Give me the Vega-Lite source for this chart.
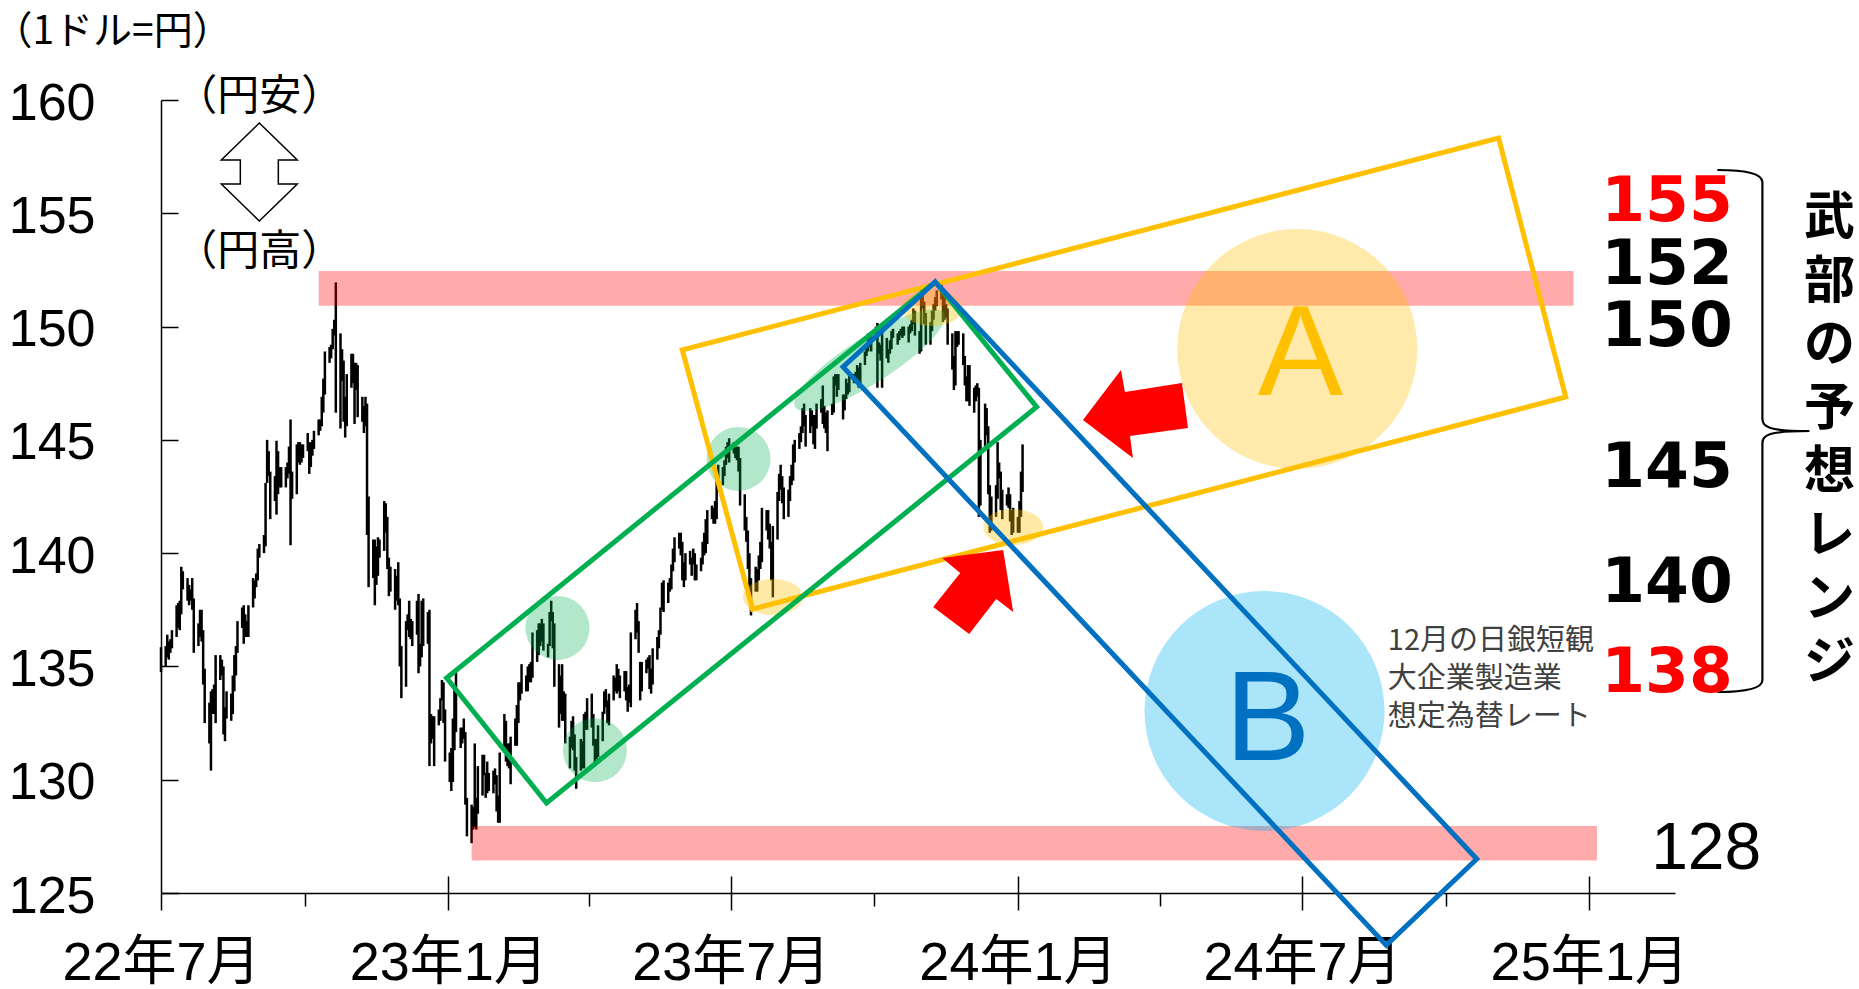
{
"$schema":"https://vega.github.io/schema/vega-lite/v6.json",
"width":1514,"height":793,
"autosize":{"type":"none"},
"padding":{"left":161,"top":100,"right":184,"bottom":96},
"background":"#ffffff",
"config":{"view":{"stroke":null}},
"resolve":{"axis":{"x":"independent","y":"independent"},"scale":{"color":"independent","shape":"independent"}},
"datasets":{
"price":[
{"d":"2022-07-01","lo":134.75,"hi":135.85},{"d":"2022-07-04","lo":135.0,"hi":135.9},{"d":"2022-07-05","lo":135.4,"hi":136.4},{"d":"2022-07-06","lo":135.3,"hi":136.1},{"d":"2022-07-07","lo":135.6,"hi":136.2},{"d":"2022-07-08","lo":135.8,"hi":136.6},{"d":"2022-07-11","lo":136.3,"hi":137.7},{"d":"2022-07-12","lo":136.7,"hi":137.8},{"d":"2022-07-13","lo":136.6,"hi":137.9},{"d":"2022-07-14","lo":137.3,"hi":139.4},{"d":"2022-07-15","lo":138.4,"hi":139.2},{"d":"2022-07-18","lo":137.9,"hi":138.9},{"d":"2022-07-19","lo":137.7,"hi":138.6},{"d":"2022-07-20","lo":137.9,"hi":138.4},{"d":"2022-07-21","lo":137.5,"hi":138.9},{"d":"2022-07-22","lo":135.6,"hi":138.0},{"d":"2022-07-25","lo":135.9,"hi":136.9},{"d":"2022-07-26","lo":136.3,"hi":137.5},{"d":"2022-07-27","lo":136.1,"hi":137.5},{"d":"2022-07-28","lo":134.2,"hi":136.6},{"d":"2022-07-29","lo":132.5,"hi":134.9},
{"d":"2022-08-01","lo":131.6,"hi":133.4},{"d":"2022-08-02","lo":130.4,"hi":133.9},{"d":"2022-08-03","lo":132.9,"hi":134.0},{"d":"2022-08-04","lo":132.9,"hi":134.2},{"d":"2022-08-05","lo":132.5,"hi":135.5},{"d":"2022-08-08","lo":134.4,"hi":135.5},{"d":"2022-08-09","lo":134.6,"hi":135.3},{"d":"2022-08-10","lo":132.0,"hi":135.0},{"d":"2022-08-11","lo":131.7,"hi":133.2},{"d":"2022-08-12","lo":132.7,"hi":133.9},{"d":"2022-08-15","lo":132.6,"hi":133.8},{"d":"2022-08-16","lo":132.9,"hi":134.6},{"d":"2022-08-17","lo":133.9,"hi":135.5},{"d":"2022-08-18","lo":134.6,"hi":135.9},{"d":"2022-08-19","lo":135.6,"hi":137.0},{"d":"2022-08-22","lo":136.7,"hi":137.6},{"d":"2022-08-23","lo":136.0,"hi":137.7},{"d":"2022-08-24","lo":136.3,"hi":137.3},{"d":"2022-08-25","lo":136.3,"hi":137.0},{"d":"2022-08-26","lo":136.3,"hi":137.7},{"d":"2022-08-29","lo":137.6,"hi":138.9},{"d":"2022-08-30","lo":138.0,"hi":138.8},{"d":"2022-08-31","lo":138.5,"hi":139.1},
{"d":"2022-09-01","lo":138.8,"hi":140.2},{"d":"2022-09-02","lo":139.8,"hi":140.4},{"d":"2022-09-05","lo":140.0,"hi":140.8},{"d":"2022-09-06","lo":140.3,"hi":143.1},{"d":"2022-09-07","lo":143.1,"hi":145.0},{"d":"2022-09-08","lo":143.4,"hi":144.5},{"d":"2022-09-09","lo":141.5,"hi":143.6},{"d":"2022-09-12","lo":142.3,"hi":143.4},{"d":"2022-09-13","lo":141.7,"hi":144.96},{"d":"2022-09-14","lo":142.6,"hi":144.5},{"d":"2022-09-15","lo":142.9,"hi":143.8},{"d":"2022-09-16","lo":142.9,"hi":143.8},{"d":"2022-09-19","lo":142.9,"hi":143.8},{"d":"2022-09-20","lo":143.3,"hi":144.0},{"d":"2022-09-21","lo":143.5,"hi":144.7},{"d":"2022-09-22","lo":140.35,"hi":145.9},{"d":"2022-09-23","lo":142.4,"hi":143.6},{"d":"2022-09-26","lo":142.6,"hi":144.8},{"d":"2022-09-27","lo":144.0,"hi":144.9},{"d":"2022-09-28","lo":143.9,"hi":144.9},{"d":"2022-09-29","lo":144.0,"hi":144.8},{"d":"2022-09-30","lo":144.2,"hi":144.8},
{"d":"2022-10-03","lo":144.5,"hi":145.3},{"d":"2022-10-04","lo":143.5,"hi":144.9},{"d":"2022-10-05","lo":143.8,"hi":144.9},{"d":"2022-10-06","lo":144.3,"hi":145.0},{"d":"2022-10-07","lo":144.6,"hi":145.4},{"d":"2022-10-10","lo":145.2,"hi":145.9},{"d":"2022-10-11","lo":145.4,"hi":145.9},{"d":"2022-10-12","lo":145.6,"hi":146.9},{"d":"2022-10-13","lo":146.2,"hi":147.7},{"d":"2022-10-14","lo":147.0,"hi":148.9},{"d":"2022-10-17","lo":148.4,"hi":149.1},{"d":"2022-10-18","lo":148.6,"hi":149.2},{"d":"2022-10-19","lo":149.0,"hi":149.9},{"d":"2022-10-20","lo":149.6,"hi":150.3},{"d":"2022-10-21","lo":146.2,"hi":151.95},{"d":"2022-10-24","lo":145.5,"hi":149.7},{"d":"2022-10-25","lo":147.6,"hi":149.0},{"d":"2022-10-26","lo":145.8,"hi":148.5},{"d":"2022-10-27","lo":145.1,"hi":146.9},{"d":"2022-10-28","lo":145.6,"hi":147.9},{"d":"2022-10-31","lo":147.3,"hi":148.8},
{"d":"2022-11-01","lo":147.5,"hi":148.8},{"d":"2022-11-02","lo":145.7,"hi":148.4},{"d":"2022-11-03","lo":147.2,"hi":148.4},{"d":"2022-11-04","lo":146.0,"hi":148.3},{"d":"2022-11-07","lo":145.8,"hi":146.9},{"d":"2022-11-08","lo":145.3,"hi":146.5},{"d":"2022-11-09","lo":145.6,"hi":146.9},{"d":"2022-11-10","lo":140.8,"hi":146.6},{"d":"2022-11-11","lo":138.5,"hi":142.5},{"d":"2022-11-14","lo":138.9,"hi":140.6},{"d":"2022-11-15","lo":137.7,"hi":140.6},{"d":"2022-11-16","lo":138.6,"hi":140.3},{"d":"2022-11-17","lo":139.0,"hi":140.7},{"d":"2022-11-18","lo":139.8,"hi":140.6},{"d":"2022-11-21","lo":140.1,"hi":142.3},{"d":"2022-11-22","lo":140.9,"hi":142.2},{"d":"2022-11-23","lo":139.3,"hi":141.6},{"d":"2022-11-24","lo":138.1,"hi":139.8},{"d":"2022-11-25","lo":138.3,"hi":139.4},{"d":"2022-11-28","lo":137.5,"hi":139.3},{"d":"2022-11-29","lo":137.9,"hi":139.0},{"d":"2022-11-30","lo":137.7,"hi":139.6},
{"d":"2022-12-01","lo":135.0,"hi":138.0},{"d":"2022-12-02","lo":133.6,"hi":135.9},{"d":"2022-12-05","lo":134.1,"hi":137.0},{"d":"2022-12-06","lo":136.6,"hi":137.3},{"d":"2022-12-07","lo":136.3,"hi":137.9},{"d":"2022-12-08","lo":136.2,"hi":137.1},{"d":"2022-12-09","lo":135.9,"hi":137.0},{"d":"2022-12-12","lo":136.4,"hi":137.9},{"d":"2022-12-13","lo":134.7,"hi":138.2},{"d":"2022-12-14","lo":135.0,"hi":136.0},{"d":"2022-12-15","lo":135.4,"hi":137.9},{"d":"2022-12-16","lo":135.9,"hi":138.0},{"d":"2022-12-19","lo":136.0,"hi":137.4},{"d":"2022-12-20","lo":130.6,"hi":137.5},{"d":"2022-12-21","lo":131.6,"hi":132.9},{"d":"2022-12-22","lo":131.8,"hi":132.8},{"d":"2022-12-23","lo":130.6,"hi":132.8},{"d":"2022-12-26","lo":132.4,"hi":133.1},{"d":"2022-12-27","lo":132.6,"hi":133.6},{"d":"2022-12-28","lo":133.5,"hi":134.4},{"d":"2022-12-29","lo":132.5,"hi":134.3},{"d":"2022-12-30","lo":130.8,"hi":133.1},
{"d":"2023-01-02","lo":129.9,"hi":131.2},{"d":"2023-01-03","lo":129.5,"hi":131.4},{"d":"2023-01-04","lo":129.9,"hi":132.7},{"d":"2023-01-05","lo":131.3,"hi":134.0},{"d":"2023-01-06","lo":132.1,"hi":134.8},{"d":"2023-01-09","lo":131.4,"hi":132.3},{"d":"2023-01-10","lo":131.6,"hi":132.3},{"d":"2023-01-11","lo":131.8,"hi":132.7},{"d":"2023-01-12","lo":128.9,"hi":132.1},{"d":"2023-01-13","lo":127.5,"hi":129.2},{"d":"2023-01-16","lo":127.2,"hi":128.9},{"d":"2023-01-17","lo":127.8,"hi":128.8},{"d":"2023-01-18","lo":127.9,"hi":131.6},{"d":"2023-01-19","lo":127.8,"hi":129.2},{"d":"2023-01-20","lo":128.5,"hi":130.6},{"d":"2023-01-23","lo":129.3,"hi":131.1},{"d":"2023-01-24","lo":130.2,"hi":131.1},{"d":"2023-01-25","lo":129.2,"hi":130.3},{"d":"2023-01-26","lo":129.4,"hi":130.8},{"d":"2023-01-27","lo":129.5,"hi":130.3},{"d":"2023-01-30","lo":129.4,"hi":130.4},{"d":"2023-01-31","lo":129.8,"hi":130.5},
{"d":"2023-02-01","lo":128.6,"hi":130.2},{"d":"2023-02-02","lo":128.1,"hi":129.3},{"d":"2023-02-03","lo":128.1,"hi":131.2},{"d":"2023-02-06","lo":131.2,"hi":132.9},{"d":"2023-02-07","lo":130.8,"hi":132.6},{"d":"2023-02-08","lo":130.6,"hi":131.6},{"d":"2023-02-09","lo":130.5,"hi":131.6},{"d":"2023-02-10","lo":129.8,"hi":131.9},{"d":"2023-02-13","lo":131.5,"hi":132.7},{"d":"2023-02-14","lo":131.5,"hi":133.3},{"d":"2023-02-15","lo":132.5,"hi":134.3},{"d":"2023-02-16","lo":133.5,"hi":134.3},{"d":"2023-02-17","lo":133.8,"hi":135.1},{"d":"2023-02-20","lo":133.9,"hi":134.6},{"d":"2023-02-21","lo":133.9,"hi":135.0},{"d":"2023-02-22","lo":134.3,"hi":135.1},{"d":"2023-02-23","lo":134.3,"hi":135.2},{"d":"2023-02-24","lo":134.5,"hi":136.5},{"d":"2023-02-27","lo":135.2,"hi":136.6},{"d":"2023-02-28","lo":135.5,"hi":136.9},
{"d":"2023-03-01","lo":135.9,"hi":136.9},{"d":"2023-03-02","lo":136.1,"hi":137.1},{"d":"2023-03-03","lo":135.7,"hi":136.9},{"d":"2023-03-06","lo":135.4,"hi":136.0},{"d":"2023-03-07","lo":135.9,"hi":137.4},{"d":"2023-03-08","lo":137.0,"hi":137.9},{"d":"2023-03-09","lo":135.8,"hi":137.4},{"d":"2023-03-10","lo":134.1,"hi":136.9},{"d":"2023-03-13","lo":132.3,"hi":135.1},{"d":"2023-03-14","lo":132.9,"hi":134.6},{"d":"2023-03-15","lo":132.6,"hi":135.1},{"d":"2023-03-16","lo":132.6,"hi":133.9},{"d":"2023-03-17","lo":131.6,"hi":133.8},{"d":"2023-03-20","lo":130.5,"hi":131.9},{"d":"2023-03-21","lo":131.4,"hi":132.6},{"d":"2023-03-22","lo":131.3,"hi":132.8},{"d":"2023-03-23","lo":130.4,"hi":132.0},{"d":"2023-03-24","lo":129.6,"hi":131.0},{"d":"2023-03-27","lo":130.4,"hi":131.8},{"d":"2023-03-28","lo":130.5,"hi":131.7},{"d":"2023-03-29","lo":130.5,"hi":132.9},{"d":"2023-03-30","lo":132.2,"hi":133.0},{"d":"2023-03-31","lo":132.2,"hi":133.6},
{"d":"2023-04-03","lo":132.3,"hi":133.8},{"d":"2023-04-04","lo":131.5,"hi":132.9},{"d":"2023-04-05","lo":130.6,"hi":131.8},{"d":"2023-04-06","lo":130.9,"hi":131.8},{"d":"2023-04-07","lo":131.0,"hi":132.4},{"d":"2023-04-10","lo":131.7,"hi":133.0},{"d":"2023-04-11","lo":132.9,"hi":133.9},{"d":"2023-04-12","lo":133.2,"hi":134.0},{"d":"2023-04-13","lo":132.5,"hi":133.5},{"d":"2023-04-14","lo":132.4,"hi":133.8},{"d":"2023-04-17","lo":133.5,"hi":134.6},{"d":"2023-04-18","lo":133.9,"hi":134.5},{"d":"2023-04-19","lo":133.8,"hi":135.1},{"d":"2023-04-20","lo":133.9,"hi":134.9},{"d":"2023-04-21","lo":133.6,"hi":134.6},{"d":"2023-04-24","lo":133.9,"hi":134.8},{"d":"2023-04-25","lo":133.5,"hi":134.8},{"d":"2023-04-26","lo":133.0,"hi":134.1},{"d":"2023-04-27","lo":133.4,"hi":134.2},{"d":"2023-04-28","lo":133.2,"hi":136.5},
{"d":"2023-05-01","lo":136.2,"hi":137.5},{"d":"2023-05-02","lo":136.5,"hi":137.8},{"d":"2023-05-03","lo":135.6,"hi":137.0},{"d":"2023-05-04","lo":133.5,"hi":135.2},{"d":"2023-05-05","lo":133.9,"hi":135.2},{"d":"2023-05-08","lo":134.7,"hi":135.3},{"d":"2023-05-09","lo":134.9,"hi":135.4},{"d":"2023-05-10","lo":134.0,"hi":135.5},{"d":"2023-05-11","lo":133.8,"hi":134.9},{"d":"2023-05-12","lo":134.2,"hi":135.8},{"d":"2023-05-15","lo":135.3,"hi":136.3},{"d":"2023-05-16","lo":135.8,"hi":136.6},{"d":"2023-05-17","lo":136.4,"hi":137.6},{"d":"2023-05-18","lo":137.5,"hi":138.7},{"d":"2023-05-19","lo":137.4,"hi":138.8},{"d":"2023-05-22","lo":137.8,"hi":138.7},{"d":"2023-05-23","lo":138.3,"hi":138.9},{"d":"2023-05-24","lo":138.4,"hi":139.5},{"d":"2023-05-25","lo":139.2,"hi":140.2},{"d":"2023-05-26","lo":139.6,"hi":140.7},{"d":"2023-05-29","lo":140.2,"hi":140.9},{"d":"2023-05-30","lo":139.9,"hi":140.9},{"d":"2023-05-31","lo":138.8,"hi":140.5},
{"d":"2023-06-01","lo":138.5,"hi":139.6},{"d":"2023-06-02","lo":138.8,"hi":140.0},{"d":"2023-06-05","lo":139.5,"hi":140.1},{"d":"2023-06-06","lo":139.0,"hi":139.8},{"d":"2023-06-07","lo":139.5,"hi":140.2},{"d":"2023-06-08","lo":138.8,"hi":140.0},{"d":"2023-06-09","lo":138.8,"hi":139.5},{"d":"2023-06-12","lo":139.2,"hi":139.8},{"d":"2023-06-13","lo":139.5,"hi":140.5},{"d":"2023-06-14","lo":139.9,"hi":140.9},{"d":"2023-06-15","lo":140.0,"hi":141.5},{"d":"2023-06-16","lo":140.4,"hi":141.9},{"d":"2023-06-19","lo":141.5,"hi":142.1},{"d":"2023-06-20","lo":141.3,"hi":142.0},{"d":"2023-06-21","lo":141.3,"hi":142.3},{"d":"2023-06-22","lo":141.5,"hi":143.2},{"d":"2023-06-23","lo":142.9,"hi":143.9},{"d":"2023-06-26","lo":143.0,"hi":143.8},{"d":"2023-06-27","lo":143.4,"hi":144.1},{"d":"2023-06-28","lo":143.9,"hi":144.7},{"d":"2023-06-29","lo":144.2,"hi":144.9},{"d":"2023-06-30","lo":144.0,"hi":145.07},
{"d":"2023-07-03","lo":144.4,"hi":144.9},{"d":"2023-07-04","lo":144.2,"hi":144.7},{"d":"2023-07-05","lo":144.1,"hi":144.7},{"d":"2023-07-06","lo":143.6,"hi":144.7},{"d":"2023-07-07","lo":142.1,"hi":144.2},{"d":"2023-07-10","lo":141.0,"hi":142.6},{"d":"2023-07-11","lo":140.5,"hi":141.6},{"d":"2023-07-12","lo":139.3,"hi":141.0},{"d":"2023-07-13","lo":137.9,"hi":140.0},{"d":"2023-07-14","lo":137.25,"hi":138.9},{"d":"2023-07-17","lo":138.3,"hi":139.4},{"d":"2023-07-18","lo":138.3,"hi":139.3},{"d":"2023-07-19","lo":138.8,"hi":139.9},{"d":"2023-07-20","lo":139.3,"hi":140.5},{"d":"2023-07-21","lo":139.6,"hi":142.0},{"d":"2023-07-24","lo":141.0,"hi":141.9},{"d":"2023-07-25","lo":140.6,"hi":141.9},{"d":"2023-07-26","lo":140.2,"hi":141.3},{"d":"2023-07-27","lo":138.8,"hi":140.5},{"d":"2023-07-28","lo":138.05,"hi":141.2},{"d":"2023-07-31","lo":140.6,"hi":142.7},
{"d":"2023-08-01","lo":142.3,"hi":143.5},{"d":"2023-08-02","lo":142.8,"hi":143.9},{"d":"2023-08-03","lo":142.2,"hi":143.4},{"d":"2023-08-04","lo":141.5,"hi":142.9},{"d":"2023-08-07","lo":141.6,"hi":142.8},{"d":"2023-08-08","lo":142.3,"hi":143.4},{"d":"2023-08-09","lo":143.0,"hi":143.9},{"d":"2023-08-10","lo":143.2,"hi":144.8},{"d":"2023-08-11","lo":144.0,"hi":145.0},{"d":"2023-08-14","lo":144.6,"hi":145.3},{"d":"2023-08-15","lo":144.9,"hi":145.6},{"d":"2023-08-16","lo":145.3,"hi":146.4},{"d":"2023-08-17","lo":145.6,"hi":146.6},{"d":"2023-08-18","lo":144.7,"hi":146.1},{"d":"2023-08-21","lo":145.3,"hi":146.4},{"d":"2023-08-22","lo":145.6,"hi":146.3},{"d":"2023-08-23","lo":144.8,"hi":146.1},{"d":"2023-08-24","lo":144.6,"hi":146.1},{"d":"2023-08-25","lo":145.5,"hi":146.6},{"d":"2023-08-28","lo":146.2,"hi":146.8},{"d":"2023-08-29","lo":145.7,"hi":147.4},{"d":"2023-08-30","lo":145.5,"hi":146.5},{"d":"2023-08-31","lo":145.3,"hi":146.2},
{"d":"2023-09-01","lo":144.5,"hi":146.3},{"d":"2023-09-04","lo":146.1,"hi":146.6},{"d":"2023-09-05","lo":146.2,"hi":147.8},{"d":"2023-09-06","lo":147.4,"hi":147.9},{"d":"2023-09-07","lo":146.9,"hi":147.9},{"d":"2023-09-08","lo":147.2,"hi":147.9},{"d":"2023-09-11","lo":145.9,"hi":147.0},{"d":"2023-09-12","lo":146.3,"hi":147.0},{"d":"2023-09-13","lo":146.8,"hi":147.7},{"d":"2023-09-14","lo":147.0,"hi":147.5},{"d":"2023-09-15","lo":147.1,"hi":147.95},{"d":"2023-09-18","lo":147.5,"hi":147.9},{"d":"2023-09-19","lo":147.6,"hi":148.0},{"d":"2023-09-20","lo":147.6,"hi":148.3},{"d":"2023-09-21","lo":147.3,"hi":148.2},{"d":"2023-09-22","lo":147.5,"hi":148.4},{"d":"2023-09-25","lo":148.3,"hi":148.9},{"d":"2023-09-26","lo":148.7,"hi":149.2},{"d":"2023-09-27","lo":148.9,"hi":149.7},{"d":"2023-09-28","lo":149.1,"hi":149.7},{"d":"2023-09-29","lo":148.9,"hi":149.8},
{"d":"2023-10-02","lo":149.5,"hi":150.0},{"d":"2023-10-03","lo":147.3,"hi":150.16},{"d":"2023-10-04","lo":148.8,"hi":149.3},{"d":"2023-10-05","lo":148.5,"hi":149.2},{"d":"2023-10-06","lo":147.3,"hi":150.1},{"d":"2023-10-09","lo":148.6,"hi":149.5},{"d":"2023-10-10","lo":148.4,"hi":149.0},{"d":"2023-10-11","lo":148.8,"hi":149.4},{"d":"2023-10-12","lo":149.0,"hi":149.8},{"d":"2023-10-13","lo":149.5,"hi":149.9},{"d":"2023-10-16","lo":149.2,"hi":149.7},{"d":"2023-10-17","lo":149.4,"hi":149.8},{"d":"2023-10-18","lo":149.6,"hi":149.9},{"d":"2023-10-19","lo":149.5,"hi":150.0},{"d":"2023-10-20","lo":149.6,"hi":150.0},{"d":"2023-10-23","lo":149.3,"hi":150.0},{"d":"2023-10-24","lo":149.7,"hi":150.1},{"d":"2023-10-25","lo":149.8,"hi":150.3},{"d":"2023-10-26","lo":150.1,"hi":150.8},{"d":"2023-10-27","lo":149.6,"hi":150.7},{"d":"2023-10-30","lo":148.8,"hi":149.8},{"d":"2023-10-31","lo":148.9,"hi":151.7},
{"d":"2023-11-01","lo":150.8,"hi":151.7},{"d":"2023-11-02","lo":150.1,"hi":151.1},{"d":"2023-11-03","lo":149.2,"hi":150.6},{"d":"2023-11-06","lo":149.2,"hi":150.2},{"d":"2023-11-07","lo":149.8,"hi":150.7},{"d":"2023-11-08","lo":150.3,"hi":151.0},{"d":"2023-11-09","lo":150.7,"hi":151.3},{"d":"2023-11-10","lo":150.9,"hi":151.6},{"d":"2023-11-13","lo":151.2,"hi":151.9},{"d":"2023-11-14","lo":150.2,"hi":151.7},{"d":"2023-11-15","lo":150.3,"hi":151.4},{"d":"2023-11-16","lo":150.4,"hi":151.0},{"d":"2023-11-17","lo":149.2,"hi":150.8},{"d":"2023-11-20","lo":148.1,"hi":149.7},{"d":"2023-11-21","lo":147.2,"hi":148.7},{"d":"2023-11-22","lo":147.4,"hi":149.8},{"d":"2023-11-23","lo":149.1,"hi":149.8},{"d":"2023-11-24","lo":149.2,"hi":149.8},{"d":"2023-11-27","lo":148.3,"hi":149.7},{"d":"2023-11-28","lo":147.4,"hi":148.7},{"d":"2023-11-29","lo":146.7,"hi":147.8},{"d":"2023-11-30","lo":146.7,"hi":148.3},
{"d":"2023-12-01","lo":146.5,"hi":148.3},{"d":"2023-12-04","lo":146.2,"hi":147.3},{"d":"2023-12-05","lo":146.7,"hi":147.4},{"d":"2023-12-06","lo":146.9,"hi":147.5},{"d":"2023-12-07","lo":141.6,"hi":147.3},{"d":"2023-12-08","lo":142.1,"hi":145.0},{"d":"2023-12-11","lo":144.7,"hi":146.6},{"d":"2023-12-12","lo":145.2,"hi":146.4},{"d":"2023-12-13","lo":142.6,"hi":145.6},{"d":"2023-12-14","lo":140.9,"hi":143.0},{"d":"2023-12-15","lo":141.0,"hi":142.5},{"d":"2023-12-18","lo":141.6,"hi":143.0},{"d":"2023-12-19","lo":142.4,"hi":144.9},{"d":"2023-12-20","lo":143.3,"hi":144.0},{"d":"2023-12-21","lo":141.9,"hi":143.6},{"d":"2023-12-22","lo":141.5,"hi":142.8},{"d":"2023-12-25","lo":142.1,"hi":142.6},{"d":"2023-12-26","lo":142.0,"hi":142.9},{"d":"2023-12-27","lo":141.4,"hi":142.6},{"d":"2023-12-28","lo":140.8,"hi":141.9},{"d":"2023-12-29","lo":140.9,"hi":142.0},
{"d":"2024-01-01","lo":140.9,"hi":141.6},{"d":"2024-01-02","lo":140.9,"hi":142.3},{"d":"2024-01-03","lo":141.6,"hi":143.6},{"d":"2024-01-04","lo":142.7,"hi":144.8}
],
"bands":[
{"d":"2022-10-10","d2":"2024-12-22","lo":150.92,"hi":152.45},
{"d":"2023-01-16","d2":"2025-01-06","lo":126.43,"hi":127.96}
],
"zones":[
{"d":"2024-06-28","v":149.01,"zone":"A"},
{"d":"2024-06-07","v":133.03,"zone":"B"}
],
"touchG":[
{"d":"2023-07-06","v":144.16},
{"d":"2023-03-12","v":136.70},
{"d":"2023-04-05","v":131.30}
],
"touchGlong":[{"d":"2023-09-28","v":148.52}],
"touchY":[
{"d":"2023-11-07","v":150.82},
{"d":"2023-07-28","v":138.06},
{"d":"2023-12-29","v":141.15}
],
"frames":[
{"g":"A","i":0,"d":"2023-05-31","v":148.97},{"g":"A","i":1,"d":"2024-11-04","v":158.32},{"g":"A","i":2,"d":"2024-12-17","v":146.89},{"g":"A","i":3,"d":"2023-07-15","v":137.53},{"g":"A","i":4,"d":"2023-05-31","v":148.97},
{"g":"trend","i":0,"d":"2022-12-31","v":134.49},{"g":"trend","i":1,"d":"2023-11-09","v":151.97},{"g":"trend","i":2,"d":"2024-01-13","v":146.45},{"g":"trend","i":3,"d":"2023-03-05","v":128.97},{"g":"trend","i":4,"d":"2022-12-31","v":134.49},
{"g":"B","i":0,"d":"2023-11-09","v":151.97},{"g":"B","i":1,"d":"2024-10-21","v":126.50},{"g":"B","i":2,"d":"2024-08-24","v":122.70},{"g":"B","i":3,"d":"2023-09-11","v":148.22},{"g":"B","i":4,"d":"2023-11-09","v":151.97}
],
"arrows":[
{"d":"2024-03-16","v":146.14,"dir":"left"},
{"d":"2023-12-04","v":138.37,"dir":"up"}
],
"yenArrow":[{"d":"2022-09-02","v":156.82}],
"brace":[{"d":"2025-04-22","v":145.39}],
"unit":[{"d":"2022-05-31","v":163.0,"t":"（1ドル=円）"}],
"yen":[
{"d":"2022-09-02","v":160.15,"t":"（円安）"},
{"d":"2022-09-02","v":153.27,"t":"（円高）"}
],
"letters":[
{"d":"2024-06-30","v":148.66,"t":"A"},
{"d":"2024-06-09","v":132.55,"t":"B"}
],
"forecast":[
{"d":"2025-04-03","v":155.48,"t":"155","emph":"yes"},
{"d":"2025-04-03","v":152.70,"t":"152","emph":"no"},
{"d":"2025-04-03","v":149.96,"t":"150","emph":"no"},
{"d":"2025-04-03","v":143.76,"t":"145","emph":"no"},
{"d":"2025-04-03","v":138.70,"t":"140","emph":"no"},
{"d":"2025-04-03","v":134.73,"t":"138","emph":"yes"}
],
"title":[{"d":"2025-06-04","v":155.85,"t":"武\n部\nの\n予\n想\nレ\nン\nジ"}],
"tankan":[{"d":"2024-08-25","v":136.74,"t":"12月の日銀短観\n大企業製造業\n想定為替レート"}],
"low":[{"d":"2025-03-17","v":126.96,"t":"128"}]
},
"layer":[
{
"data":{"name":"price","format":{"parse":{"d":"utc:'%Y-%m-%d'"}}},
"mark":{"type":"rule","strokeWidth":2.5,"color":"#000000"},
"encoding":{
"x":{"field":"d","type":"temporal","scale":{"type":"utc","domain":[1656633600000,1740441600000],"nice":false},
"axis":{"orient":"bottom","values":[1656633600000,1672531200000,1688169600000,1704067200000,1719792000000,1735689600000],"tickSize":17,"tickWidth":1.5,"tickColor":"#000000","domainColor":"#000000","domainWidth":1.5,"labelPadding":26,"labelExpr":"utcFormat(datum.value, '%y年%-m月')","labelFont":"Liberation Sans, Noto Sans CJK JP","labelFontSize":54,"labelColor":"#000000","labelLimit":0,"labelFlush":false,"labelOverlap":false,"labelBound":false,"grid":false,"title":null}},
"y":{"field":"lo","type":"quantitative","scale":{"domain":[125,160],"nice":false,"zero":false},
"axis":{"orient":"left","values":[125,130,135,140,145,150,155,160],"tickSize":-17,"tickWidth":1.5,"tickColor":"#000000","domainColor":"#000000","domainWidth":1.5,"labelPadding":83,"labelOffset":3,"labelFont":"Liberation Sans","labelFontSize":52,"labelColor":"#000000","labelLimit":0,"labelFlush":false,"labelBound":false,"labelOverlap":false,"grid":false,"title":null}},
"y2":{"field":"hi"}
}
},
{
"data":{"name":"bands","format":{"parse":{"d":"utc:'%Y-%m-%d'","d2":"utc:'%Y-%m-%d'"}}},
"mark":{"type":"rect","color":"#FF0000","opacity":0.33},
"encoding":{
"x":{"field":"d","type":"temporal","axis":{"orient":"bottom","values":[1664582400000,1680307200000,1696118400000,1711929600000,1727740800000],"tickSize":13,"tickWidth":1.5,"tickColor":"#000000","labels":false,"domain":false,"grid":false,"title":null}},
"x2":{"field":"d2"},
"y":{"field":"lo","type":"quantitative","axis":null},
"y2":{"field":"hi"}
}
},
{
"data":{"name":"zones","format":{"parse":{"d":"utc:'%Y-%m-%d'"}}},
"mark":{"type":"point","shape":"circle","filled":true,"size":57600,"opacity":0.33,"strokeWidth":0},
"encoding":{
"x":{"field":"d","type":"temporal","axis":{"orient":"bottom","values":[1672531200000,1688169600000,1704067200000,1719792000000,1735689600000],"tickSize":-17,"tickWidth":1.5,"tickColor":"#000000","labels":false,"domain":false,"grid":false,"title":null}},
"y":{"field":"v","type":"quantitative","axis":null},
"color":{"field":"zone","type":"nominal","scale":{"domain":["A","B"],"range":["#FFC000","#00B0F0"]},"legend":null}
}
},
{
"data":{"name":"touchG","format":{"parse":{"d":"utc:'%Y-%m-%d'"}}},
"mark":{"type":"point","shape":"circle","filled":true,"size":4096,"color":"#00B050","opacity":0.3,"strokeWidth":0},
"encoding":{"x":{"field":"d","type":"temporal","axis":null},"y":{"field":"v","type":"quantitative","axis":null}}
},
{
"data":{"name":"touchGlong","format":{"parse":{"d":"utc:'%Y-%m-%d'"}}},
"mark":{"type":"point","shape":"M -1 0 A 1 0.26 0 1 0 1 0 A 1 0.26 0 1 0 -1 0 Z","angle":327.6,"filled":true,"size":30976,"color":"#00B050","opacity":0.3,"strokeWidth":0},
"encoding":{"x":{"field":"d","type":"temporal","axis":null},"y":{"field":"v","type":"quantitative","axis":null}}
},
{
"data":{"name":"touchY","format":{"parse":{"d":"utc:'%Y-%m-%d'"}}},
"mark":{"type":"point","shape":"M -1 0 A 1 0.6 0 1 0 1 0 A 1 0.6 0 1 0 -1 0 Z","filled":true,"size":3600,"color":"#FFC000","opacity":0.35,"strokeWidth":0},
"encoding":{"x":{"field":"d","type":"temporal","axis":null},"y":{"field":"v","type":"quantitative","axis":null}}
},
{
"data":{"name":"frames","format":{"parse":{"d":"utc:'%Y-%m-%d'"}}},
"mark":{"type":"line","strokeWidth":5,"strokeJoin":"miter","strokeCap":"square"},
"encoding":{
"x":{"field":"d","type":"temporal","axis":null},
"y":{"field":"v","type":"quantitative","axis":null},
"order":{"field":"i","type":"quantitative"},
"color":{"field":"g","type":"nominal","scale":{"domain":["A","trend","B"],"range":["#FFC000","#00B050","#0070C0"]},"legend":null}
}
},
{
"data":{"name":"arrows","format":{"parse":{"d":"utc:'%Y-%m-%d'"}}},
"mark":{"type":"point","filled":true,"size":4,"color":"#FF0000","opacity":1,"strokeWidth":0},
"encoding":{
"x":{"field":"d","type":"temporal","axis":null},
"y":{"field":"v","type":"quantitative","axis":null},
"shape":{"field":"dir","type":"nominal","scale":{"domain":["left","up"],"range":["M -52 6 L -14 -44 L -10 -22 L 47 -31 L 53 14 L -5 22 L -2 44 Z","M 29 -40 L 39 22 L 22 9 L -5 44 L -41 17 L -14 -17 L -32 -32 Z"]},"legend":null}
}
},
{
"data":{"name":"yenArrow","format":{"parse":{"d":"utc:'%Y-%m-%d'"}}},
"mark":{"type":"point","shape":"M 0 -49 L 38 -12 L 19 -12 L 19 12 L 38 12 L 0 49 L -38 12 L -19 12 L -19 -12 L -38 -12 Z","size":4,"filled":true,"fill":"#ffffff","stroke":"#000000","strokeWidth":1.5,"opacity":1},
"encoding":{"x":{"field":"d","type":"temporal","axis":null},"y":{"field":"v","type":"quantitative","axis":null}}
},
{
"data":{"name":"brace","format":{"parse":{"d":"utc:'%Y-%m-%d'"}}},
"mark":{"type":"point","shape":"M -45 -261 C -18 -261 0 -258 0 -249 L 0 -12 C 0 -4 6 0 47 0 M 47 0 C 6 0 0 4 0 12 L 0 249 C 0 258 -18 261 -45 261","size":4,"filled":false,"stroke":"#000000","strokeWidth":2.2,"opacity":1},
"encoding":{"x":{"field":"d","type":"temporal","axis":null},"y":{"field":"v","type":"quantitative","axis":null}}
},
{
"data":{"name":"unit","format":{"parse":{"d":"utc:'%Y-%m-%d'"}}},
"mark":{"type":"text","font":"Noto Sans CJK JP","fontSize":39,"align":"center","baseline":"middle","color":"#000000"},
"encoding":{"x":{"field":"d","type":"temporal","axis":null},"y":{"field":"v","type":"quantitative","axis":null},"text":{"field":"t","type":"nominal"}}
},
{
"data":{"name":"yen","format":{"parse":{"d":"utc:'%Y-%m-%d'"}}},
"mark":{"type":"text","font":"Noto Sans CJK JP","fontSize":42,"align":"center","baseline":"middle","color":"#000000"},
"encoding":{"x":{"field":"d","type":"temporal","axis":null},"y":{"field":"v","type":"quantitative","axis":null},"text":{"field":"t","type":"nominal"}}
},
{
"data":{"name":"letters","format":{"parse":{"d":"utc:'%Y-%m-%d'"}}},
"mark":{"type":"text","font":"Liberation Sans","fontSize":128,"align":"center","baseline":"middle"},
"encoding":{"x":{"field":"d","type":"temporal","axis":null},"y":{"field":"v","type":"quantitative","axis":null},"text":{"field":"t","type":"nominal"},
"color":{"field":"t","type":"nominal","scale":{"domain":["A","B"],"range":["#FFC000","#0070C0"]},"legend":null}}
},
{
"data":{"name":"forecast","format":{"parse":{"d":"utc:'%Y-%m-%d'"}}},
"mark":{"type":"text","font":"DejaVu Sans","fontWeight":"bold","fontSize":63,"align":"right","baseline":"middle"},
"encoding":{"x":{"field":"d","type":"temporal","axis":null},"y":{"field":"v","type":"quantitative","axis":null},"text":{"field":"t","type":"nominal"},
"color":{"field":"emph","type":"nominal","scale":{"domain":["yes","no"],"range":["#FF0000","#000000"]},"legend":null}}
},
{
"data":{"name":"title","format":{"parse":{"d":"utc:'%Y-%m-%d'"}}},
"mark":{"type":"text","font":"Noto Sans CJK JP","fontWeight":"bold","fontSize":51,"lineHeight":63.6,"lineBreak":"\n","align":"center","baseline":"top","color":"#000000"},
"encoding":{"x":{"field":"d","type":"temporal","axis":null},"y":{"field":"v","type":"quantitative","axis":null},"text":{"field":"t","type":"nominal"}}
},
{
"data":{"name":"tankan","format":{"parse":{"d":"utc:'%Y-%m-%d'"}}},
"mark":{"type":"text","font":"Noto Sans CJK JP","fontSize":29,"lineHeight":38,"lineBreak":"\n","align":"left","baseline":"top","color":"#404040"},
"encoding":{"x":{"field":"d","type":"temporal","axis":null},"y":{"field":"v","type":"quantitative","axis":null},"text":{"field":"t","type":"nominal"}}
},
{
"data":{"name":"low","format":{"parse":{"d":"utc:'%Y-%m-%d'"}}},
"mark":{"type":"text","font":"Liberation Sans","fontSize":66,"align":"center","baseline":"middle","color":"#000000"},
"encoding":{"x":{"field":"d","type":"temporal","axis":null},"y":{"field":"v","type":"quantitative","axis":null},"text":{"field":"t","type":"nominal"}}
}
]
}
